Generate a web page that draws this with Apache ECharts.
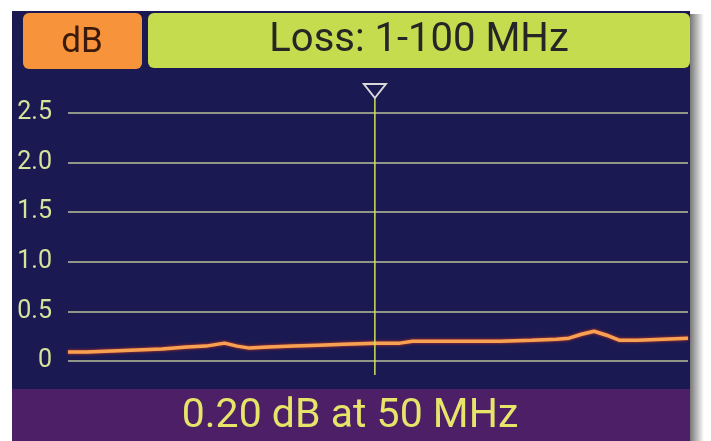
<!DOCTYPE html>
<html><head><meta charset="utf-8">
<script src="https://cdn.jsdelivr.net/npm/echarts@6/dist/echarts.min.js"></script>
<style>html,body{margin:0;padding:0;background:#fff}#c{width:711px;height:441px}</style>
</head><body><div id="c"></div>
<script>
const freqs = [1,4,8,12,16,20,23,26,28,30,33,37,41,45,50,54,56,60,65,70,75,79,81,83,85,87,89,92,96,100];
const loss  = [0.09,0.09,0.10,0.11,0.12,0.14,0.15,0.18,0.15,0.13,0.14,0.15,0.16,0.17,0.18,0.18,0.20,0.20,0.20,0.20,0.21,0.22,0.23,0.27,0.30,0.26,0.21,0.21,0.22,0.23];
const yTicks = [0,0.5,1.0,1.5,2.0,2.5];
const yTickLabels = ['0','0.5','1.0','1.5','2.0','2.5'];
const unitLabel = 'dB';
const titleText = 'Loss: 1-100 MHz';
const markerFreq = 50;
const markerLoss = 0.20;

const chart = echarts.init(document.getElementById('c'), null, {renderer:'canvas'});
const font = 'Roboto, "Noto Sans", sans-serif';
chart.setOption({
  backgroundColor: '#ffffff',
  animation: false,
  grid: {left: 68, right: 23, top: 113, bottom: 80},
  xAxis: {type: 'value', min: 1, max: 100, show: false},
  yAxis: {
    type: 'value', min: 0, max: 2.5, interval: 0.5,
    axisLine: {show: false}, axisTick: {show: false},
    splitLine: {lineStyle: {color: '#b9c29a', width: 1.5}},
    axisLabel: {
      margin: 16, color: '#d6e39a', fontSize: 25, fontFamily: font,
      formatter: v => { const i = yTicks.findIndex(t => Math.abs(t - v) < 1e-6); return i >= 0 ? yTickLabels[i] : ''; }
    }
  },
  series: [{
    type: 'line', symbol: 'none', z: 5,
    data: freqs.map((f, i) => [f, loss[i]]),
    lineStyle: {color: '#f7a253', width: 3.5, shadowColor: '#d23a1a', shadowBlur: 3}
  }]
});

const mx = chart.convertToPixel({xAxisIndex: 0}, markerFreq);
const yTop = chart.convertToPixel({yAxisIndex: 0}, 2.5);
const yZero = chart.convertToPixel({yAxisIndex: 0}, 0);

chart.setOption({
  graphic: [
    {type: 'rect', z: -100, silent: true, shape: {x: 690, y: 14, width: 14, height: 427},
      style: {fill: new echarts.graphic.LinearGradient(0,0,1,0,[{offset:0,color:'#777'},{offset:1,color:'#ffffff'}])}},
    {type: 'rect', z: -90, silent: true, shape: {x: 12, y: 11, width: 678, height: 378}, style: {fill: '#1b1952'}},
    {type: 'rect', z: -90, silent: true, shape: {x: 12, y: 389, width: 678, height: 52}, style: {fill: '#4d1f66'}},
    {type: 'rect', z: -80, silent: true, shape: {x: 23, y: 13, width: 119, height: 56, r: 6}, style: {fill: '#f7933b'}},
    {type: 'rect', z: -80, silent: true, shape: {x: 148, y: 13, width: 542, height: 55, r: 6}, style: {fill: '#c4dc4d'}},
    {type: 'text', z: 10, silent: true, x: 82, y: 43,
      style: {text: unitLabel, font: '35px ' + font, fill: '#3a1a0c', align: 'center', verticalAlign: 'middle'}},
    {type: 'text', z: 10, silent: true, x: 419, y: 41,
      style: {text: titleText, font: '40px ' + font, fill: '#262626', align: 'center', verticalAlign: 'middle'}},
    {type: 'text', z: 10, silent: true, x: 350, y: 417,
      style: {text: markerLoss.toFixed(2) + ' dB at ' + markerFreq + ' MHz', font: '41px ' + font, fill: '#e6e56a', align: 'center', verticalAlign: 'middle'}},
    {type: 'line', z: 8, silent: true, shape: {x1: mx, y1: yTop - 15, x2: mx, y2: yZero + 14},
      style: {stroke: '#cfe05a', lineWidth: 1.5}},
    {type: 'polygon', z: 9, silent: true, shape: {points: [[mx - 11, yTop - 29], [mx + 11, yTop - 29], [mx, yTop - 15]]},
      style: {fill: 'none', stroke: '#d8d8d8', lineWidth: 2}}
  ]
});
</script></body></html>
